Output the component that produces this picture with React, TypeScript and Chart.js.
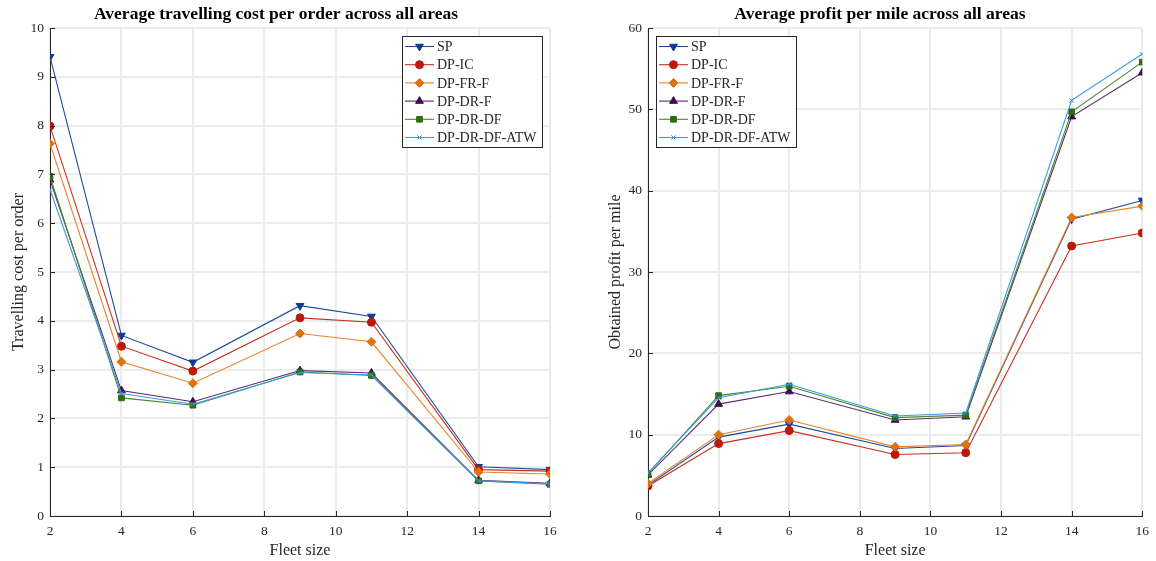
import React, { useEffect, useRef } from 'react';
import { Chart, registerables } from 'chart.js';
import { drawPoint } from 'chart.js/helpers';

Chart.register(...registerables);

// Fleet sizes on the x axis
const fleetSizes = [2, 4, 6, 9, 11, 14, 16];
const xTicks = [2, 4, 6, 8, 10, 12, 14, 16];

const seriesNames = ['SP', 'DP-IC', 'DP-FR-F', 'DP-DR-F', 'DP-DR-DF', 'DP-DR-DF-ATW'];

// Average travelling cost per order
const costSP = [9.41, 3.7, 3.15, 4.31, 4.09, 1.01, 0.95];
const costIC = [7.99, 3.48, 2.97, 4.06, 3.97, 0.95, 0.92];
const costFRF = [7.63, 3.16, 2.72, 3.74, 3.57, 0.9, 0.86];
const costDRF = [6.89, 2.57, 2.34, 2.98, 2.93, 0.73, 0.67];
const costDRDF = [6.96, 2.42, 2.27, 2.95, 2.88, 0.72, 0.65];
const costATW = [6.69, 2.51, 2.29, 2.94, 2.89, 0.72, 0.66];

// Average profit per mile
const profitSP = [3.8, 9.7, 11.3, 8.3, 8.66, 36.5, 38.8];
const profitIC = [3.7, 8.9, 10.5, 7.56, 7.78, 33.2, 34.8];
const profitFRF = [4.0, 10.0, 11.8, 8.5, 8.8, 36.7, 38.1];
const profitDRF = [5.05, 13.76, 15.3, 11.8, 12.2, 49.1, 54.5];
const profitDRDF = [5.2, 14.8, 15.96, 12.1, 12.4, 49.7, 55.8];
const profitATW = [5.3, 14.55, 16.2, 12.3, 12.66, 51.1, 56.8];

const costSeries = [costSP, costIC, costFRF, costDRF, costDRDF, costATW];
const profitSeries = [profitSP, profitIC, profitFRF, profitDRF, profitDRDF, profitATW];

const costTicks = [0, 1, 2, 3, 4, 5, 6, 7, 8, 9, 10];
const profitTicks = [0, 10, 20, 30, 40, 50, 60];

// Per-series styling
const lineColors = ['#1c4a9c', '#c7301f', '#e8852a', '#5a2d6a', '#4a8a2e', '#3a9ae8'];
const markerColors = ['#0f3b8c', '#bb1a0a', '#e0720f', '#3f0d4f', '#2f6a12', '#2a8ee0'];
const markerStyles = ['triangle', 'circle', 'rectRot', 'triangle', 'rect', 'crossRot'];
const markerRotations = [180, 0, 0, 0, 0, 0];
const markerRadii = [4.5, 4, 4.5, 4.5, 4, 3];

const SERIF = '"Liberation Serif", "Times New Roman", serif';
const INK = '#262626';

type PanelSpec = {
  title: string;
  titleX: number;
  yTitle: string;
  yTitlePad: number;
  series: number[][];
  yTicks: number[];
  yAxisWidth: number;
  padRight: number;
  legendSide: 'left' | 'right';
};

function drawMarker(ctx: CanvasRenderingContext2D, i: number, x: number, y: number) {
  ctx.save();
  ctx.fillStyle = markerColors[i];
  ctx.strokeStyle = markerColors[i];
  ctx.lineWidth = 1;
  drawPoint(
    ctx,
    {
      pointStyle: markerStyles[i] as any,
      rotation: markerRotations[i],
      radius: markerRadii[i],
      borderWidth: 1,
    },
    x,
    y
  );
  ctx.restore();
}

function makeConfig(spec: PanelSpec) {
  const datasets = seriesNames.map((name, i) => ({
    label: name,
    data: fleetSizes.map((fx, k) => ({ x: fx, y: spec.series[i][k] })),
    borderColor: lineColors[i],
    backgroundColor: markerColors[i],
    borderWidth: 1.1,
    pointStyle: markerStyles[i] as any,
    pointRotation: markerRotations[i],
    pointRadius: markerRadii[i],
    pointBackgroundColor: markerColors[i],
    pointBorderColor: markerColors[i],
    pointBorderWidth: 1,
    tension: 0,
    fill: false,
    order: seriesNames.length - i,
  }));

  const yMax = spec.yTicks[spec.yTicks.length - 1];

  const titlePlugin = {
    id: 'panelTitle',
    afterDraw(chart: any) {
      const ctx = chart.ctx as CanvasRenderingContext2D;
      ctx.save();
      ctx.font = `bold 17.5px ${SERIF}`;
      ctx.fillStyle = '#000';
      ctx.textAlign = 'center';
      ctx.textBaseline = 'middle';
      ctx.fillText(spec.title, spec.titleX, 14);
      ctx.restore();
    },
  };

  const innerTicks = {
    id: 'innerTicks',
    afterDatasetsDraw(chart: any) {
      const ctx = chart.ctx as CanvasRenderingContext2D;
      const { left, bottom } = chart.chartArea;
      const xs = chart.scales.x;
      const ys = chart.scales.y;
      ctx.save();
      ctx.strokeStyle = INK;
      ctx.lineWidth = 1;
      ctx.beginPath();
      xTicks.forEach((v) => {
        const px = Math.round(xs.getPixelForValue(v)) + 0.5;
        ctx.moveTo(px, bottom);
        ctx.lineTo(px, bottom - 5);
      });
      spec.yTicks.forEach((v) => {
        const py = Math.round(ys.getPixelForValue(v)) + 0.5;
        ctx.moveTo(left, py);
        ctx.lineTo(left + 5, py);
      });
      ctx.stroke();
      ctx.restore();
    },
  };

  const legendBox = {
    id: 'legendBox',
    afterDraw(chart: any) {
      const ctx = chart.ctx as CanvasRenderingContext2D;
      const area = chart.chartArea;
      const w = 140;
      const h = 111;
      const bx = spec.legendSide === 'right' ? area.right - 8 - w : area.left + 8;
      const by = area.top + 8;
      ctx.save();
      ctx.fillStyle = '#fff';
      ctx.fillRect(bx, by, w, h);
      ctx.strokeStyle = INK;
      ctx.lineWidth = 1;
      ctx.strokeRect(Math.round(bx) + 0.5, Math.round(by) + 0.5, w, h);
      ctx.font = `14px ${SERIF}`;
      ctx.textBaseline = 'middle';
      ctx.textAlign = 'left';
      seriesNames.forEach((name, i) => {
        const ry = by + 10.5 + i * 18.2;
        ctx.strokeStyle = lineColors[i];
        ctx.lineWidth = 1.1;
        ctx.beginPath();
        ctx.moveTo(bx + 3, ry);
        ctx.lineTo(bx + 32, ry);
        ctx.stroke();
        drawMarker(ctx, i, bx + 17.5, ry);
        ctx.fillStyle = INK;
        ctx.fillText(name, bx + 35, ry + 1);
      });
      ctx.restore();
    },
  };

  return {
    type: 'line' as const,
    data: { datasets },
    plugins: [titlePlugin, innerTicks, legendBox],
    options: {
      animation: false as const,
      responsive: false,
      maintainAspectRatio: false,
      layout: { padding: { top: 28, right: spec.padRight, bottom: 0, left: 0 } },
      plugins: {
        legend: { display: false },
        title: { display: false },
        tooltip: { enabled: false },
      },
      scales: {
        x: {
          type: 'linear' as const,
          min: 2,
          max: 16,
          afterFit(s: any) {
            s.height = 45;
          },
          afterBuildTicks(s: any) {
            s.ticks = xTicks.map((v) => ({ value: v }));
          },
          ticks: {
            stepSize: 2,
            padding: 7,
            color: INK,
            font: { family: SERIF, size: 13.5 },
            maxRotation: 0,
          },
          grid: { color: '#ebebeb', lineWidth: 2, drawTicks: false },
          border: { display: true, color: INK, width: 1 },
          title: {
            display: true,
            text: 'Fleet size',
            color: INK,
            font: { family: SERIF, size: 16, lineHeight: 1.2 },
            padding: { top: 0, bottom: 1 },
          },
        },
        y: {
          type: 'linear' as const,
          min: 0,
          max: yMax,
          afterFit(s: any) {
            s.width = spec.yAxisWidth;
          },
          afterBuildTicks(s: any) {
            s.ticks = spec.yTicks.map((v) => ({ value: v }));
          },
          ticks: {
            padding: 6,
            color: INK,
            font: { family: SERIF, size: 13.5 },
          },
          grid: { color: '#ebebeb', lineWidth: 2, drawTicks: false },
          border: { display: true, color: INK, width: 1 },
          title: {
            display: true,
            text: spec.yTitle,
            color: INK,
            font: { family: SERIF, size: 16, lineHeight: 1.2 },
            padding: { top: spec.yTitlePad, bottom: 0 },
          },
        },
      },
    },
  };
}

function Panel({ spec, left }: { spec: PanelSpec; left: number }) {
  const ref = useRef<HTMLCanvasElement | null>(null);
  useEffect(() => {
    if (!ref.current) return;
    const chart = new Chart(ref.current, makeConfig(spec) as any);
    return () => chart.destroy();
  }, [spec]);
  return (
    <canvas
      ref={ref}
      width={578}
      height={561}
      style={{ position: 'absolute', left, top: 0, width: 578, height: 561, display: 'block' }}
    />
  );
}

const costPanel: PanelSpec = {
  title: 'Average travelling cost per order across all areas',
  titleX: 276,
  yTitle: 'Travelling cost per order',
  yTitlePad: 9,
  series: costSeries,
  yTicks: costTicks,
  yAxisWidth: 50,
  padRight: 28,
  legendSide: 'right',
};

const profitPanel: PanelSpec = {
  title: 'Average profit per mile across all areas',
  titleX: 302,
  yTitle: 'Obtained profit per mile',
  yTitlePad: 28,
  series: profitSeries,
  yTicks: profitTicks,
  yAxisWidth: 70,
  padRight: 8,
  legendSide: 'left',
};

export default function App() {
  return (
    <div
      style={{
        position: 'absolute',
        left: 0,
        top: 0,
        width: 1156,
        height: 561,
        background: '#fff',
        overflow: 'hidden',
      }}
    >
      <Panel spec={costPanel} left={0} />
      <Panel spec={profitPanel} left={578} />
    </div>
  );
}
